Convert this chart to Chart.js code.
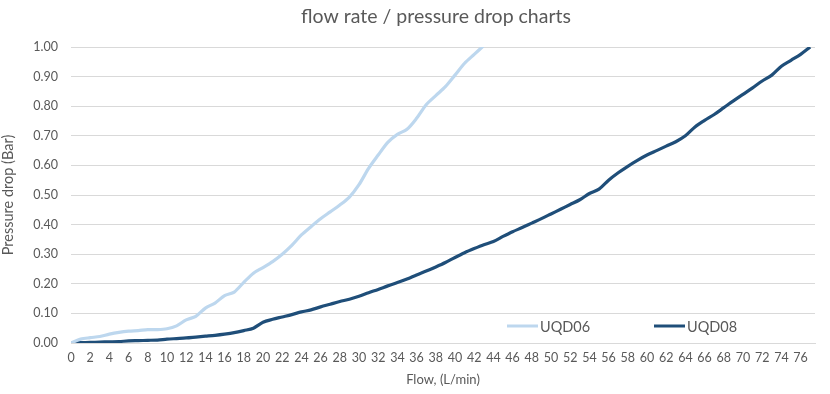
<!DOCTYPE html>
<html>
<head>
<meta charset="utf-8">
<script src="https://cdn.jsdelivr.net/npm/chart.js@4/dist/chart.umd.min.js"></script>
<style>
  html, body { margin: 0; padding: 0; background: #ffffff; }
  #wrap { position: relative; width: 830px; height: 394px; }
</style>
</head>
<body>
<div id="wrap"><canvas id="c" width="830" height="394"></canvas></div>
<script>
// ---- data ----
const flowUQD06 = [0,1,2,3,4,5,6,7,8,9,10,11,12,13,14,15,16,17,18,19,20,21,22,23,24,25,26,27,28,29,30,31,32,33,34,35,36,37,38,39,40,41,42,43];
const dropUQD06 = [0,0.013,0.018,0.022,0.030,0.036,0.040,0.042,0.045,0.045,0.048,0.058,0.078,0.090,0.118,0.135,0.160,0.172,0.205,0.236,0.255,0.275,0.300,0.330,0.365,0.393,0.420,0.443,0.466,0.493,0.535,0.590,0.635,0.678,0.705,0.722,0.759,0.805,0.836,0.866,0.905,0.945,0.975,1.005];

const flowUQD08 = [0,1,2,3,4,5,6,7,8,9,10,11,12,13,14,15,16,17,18,19,20,21,22,23,24,25,26,27,28,29,30,31,32,33,34,35,36,37,38,39,40,41,42,43,44,45,46,47,48,49,50,51,52,53,54,55,56,57,58,59,60,61,62,63,64,65,66,67,68,69,70,71,72,73,74,75,76,77];
const dropUQD08 = [0,0.001,0.002,0.003,0.004,0.005,0.007,0.008,0.009,0.010,0.013,0.015,0.017,0.020,0.023,0.026,0.030,0.035,0.042,0.050,0.070,0.080,0.088,0.096,0.105,0.112,0.122,0.131,0.140,0.148,0.158,0.170,0.181,0.193,0.204,0.216,0.230,0.243,0.257,0.272,0.289,0.305,0.319,0.332,0.343,0.360,0.376,0.390,0.405,0.420,0.436,0.452,0.468,0.484,0.505,0.520,0.550,0.575,0.597,0.617,0.635,0.650,0.665,0.680,0.700,0.730,0.752,0.772,0.795,0.818,0.840,0.862,0.885,0.905,0.935,0.955,0.975,1.000];

const seriesNames = ['UQD06', 'UQD08'];
const xTickValues = [0,2,4,6,8,10,12,14,16,18,20,22,24,26,28,30,32,34,36,38,40,42,44,46,48,50,52,54,56,58,60,62,64,66,68,70,72,74,76];
const yTickStep = 0.1;
const chartTitle = 'flow rate / pressure drop charts';

const toPoints = (xs, ys) => xs.map((x, i) => ({ x: x, y: ys[i] }));

const FONT = "Lato, 'Open Sans', sans-serif";
const GRAY = '#595959';
const LIGHT = '#BDD7EE';
const DARK = '#1F4E79';

// title and legend drawn on the canvas at the reference positions
const decorations = {
  id: 'decorations',
  afterDraw(chart) {
    const ctx = chart.ctx;
    ctx.save();
    ctx.fillStyle = GRAY;
    ctx.font = "19.5px " + FONT;
    ctx.textAlign = 'center';
    ctx.textBaseline = 'middle';
    ctx.fillText(chartTitle, 436, 17);

    const items = [
      { label: seriesNames[0], color: LIGHT, x: 507 },
      { label: seriesNames[1], color: DARK, x: 654 }
    ];
    const y = 326;
    ctx.font = "14.5px " + FONT;
    ctx.textAlign = 'left';
    items.forEach(it => {
      ctx.strokeStyle = it.color;
      ctx.lineWidth = 3;
      ctx.lineCap = 'butt';
      ctx.beginPath();
      ctx.moveTo(it.x, y);
      ctx.lineTo(it.x + 31, y);
      ctx.stroke();
      ctx.fillStyle = GRAY;
      ctx.fillText(it.label, it.x + 33, y + 1);
    });
    ctx.restore();
  }
};

new Chart(document.getElementById('c'), {
  type: 'line',
  data: {
    datasets: [
      { label: seriesNames[0], data: toPoints(flowUQD06, dropUQD06), borderColor: LIGHT, backgroundColor: LIGHT, borderWidth: 3.2, pointRadius: 0, tension: 0.3, fill: false },
      { label: seriesNames[1], data: toPoints(flowUQD08, dropUQD08), borderColor: DARK, backgroundColor: DARK, borderWidth: 3.2, pointRadius: 0, tension: 0.3, fill: false }
    ]
  },
  options: {
    responsive: false,
    animation: false,
    layout: { padding: { left: 0, right: 15, top: 47, bottom: 0 } },
    plugins: {
      legend: { display: false },
      tooltip: { enabled: false },
      title: { display: false }
    },
    scales: {
      x: {
        type: 'linear',
        min: 0,
        max: 77.5,
        afterBuildTicks(scale) {
          scale.ticks = xTickValues.map(v => ({ value: v }));
        },
        afterFit(scale) { scale.height = 51; },
        ticks: { color: GRAY, font: { family: FONT, size: 12.5 }, padding: 7, maxRotation: 0, autoSkip: false },
        grid: { display: false, drawTicks: false },
        border: { display: true, color: '#D9D9D9', width: 1 },
        title: { display: true, text: 'Flow, (L/min)', color: GRAY, font: { family: FONT, size: 13 }, padding: { top: 4, bottom: 6 } }
      },
      y: {
        type: 'linear',
        min: 0,
        max: 1,
        afterFit(scale) { scale.width = 71; },
        ticks: { stepSize: yTickStep, color: GRAY, font: { family: FONT, size: 12.5 }, padding: 13, callback: v => Number(v).toFixed(2) },
        grid: { color: '#D9D9D9', lineWidth: 1, drawTicks: false },
        border: { display: false },
        title: { display: true, text: 'Pressure drop (Bar)', color: GRAY, font: { family: FONT, size: 14.5 }, padding: { top: 0, bottom: 4 } }
      }
    }
  },
  plugins: [decorations]
});
</script>
</body>
</html>
